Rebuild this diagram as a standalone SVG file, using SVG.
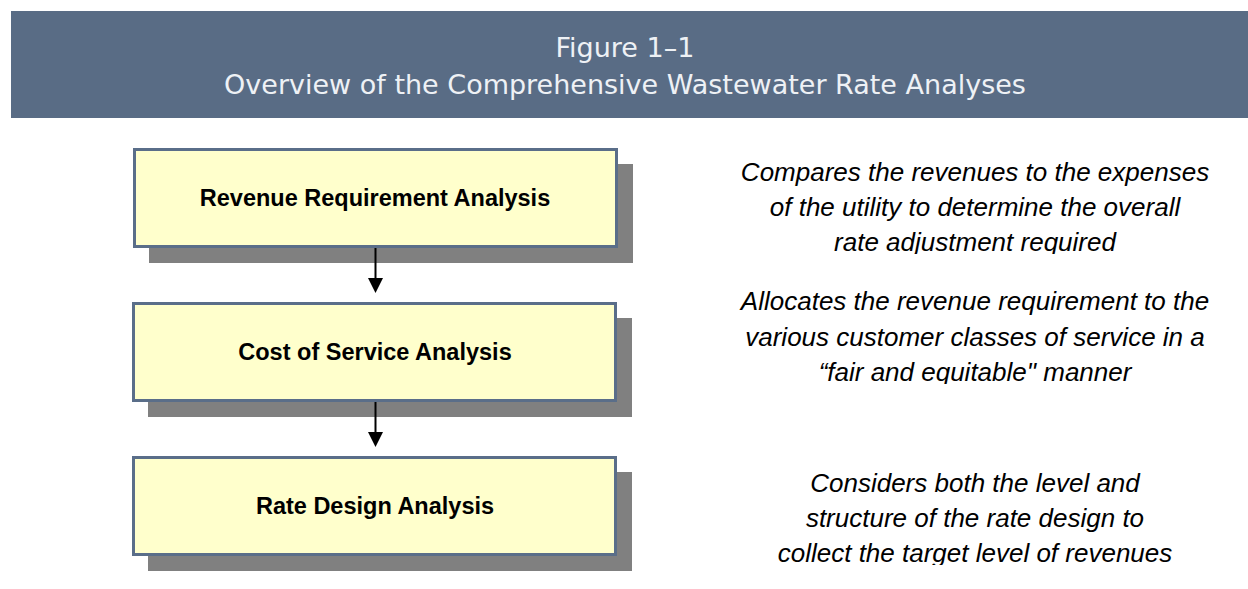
<svg xmlns="http://www.w3.org/2000/svg" width="1248" height="589" viewBox="0 0 1248 589">
<style>
.band{fill:#596c85}
.htxt{font-family:"DejaVu Sans",sans-serif;font-size:27px;fill:#eef1f5;text-anchor:middle}
.shadow{fill:#808080}
.box{fill:#ffffcc;stroke:#5a6e89;stroke-width:3}
.btxt{font-family:"Liberation Sans",Arial,sans-serif;font-weight:bold;font-size:23.5px;fill:#000;text-anchor:middle}
.desc{font-family:"Liberation Sans",Arial,sans-serif;font-style:italic;font-size:26px;fill:#000;text-anchor:middle}
.conn{stroke:#000;stroke-width:2;fill:none}
</style>
<defs>
<marker id="arr" markerWidth="16" markerHeight="16" refX="8" refY="15" viewBox="0 0 16 16" markerUnits="userSpaceOnUse" orient="auto-start-reverse">
<path d="M0,0 L16,0 L8,15 Z" fill="#000" transform="rotate(-90 8 8)"/>
</marker>
<clipPath id="c1"><rect x="680" y="140" width="568" height="114"/></clipPath>
<clipPath id="c2"><rect x="680" y="280" width="568" height="104"/></clipPath>
<clipPath id="c3"><rect x="680" y="460" width="568" height="105"/></clipPath>
</defs>
<g id="header">
<rect class="band" x="11" y="11" width="1237" height="107"/>
<text class="htxt" x="625" y="57">Figure 1–1</text>
<text class="htxt" x="625" y="94">Overview of the Comprehensive Wastewater Rate Analyses</text>
</g>
<g id="node-revenue">
<rect class="shadow" x="149" y="164" width="484" height="99"/>
<rect class="box" x="134.5" y="149.5" width="482" height="97"/>
<text class="btxt" x="375" y="206">Revenue Requirement Analysis</text>
</g>
<g id="node-cost">
<rect class="shadow" x="148" y="318" width="484" height="99"/>
<rect class="box" x="133.5" y="303.5" width="482" height="97"/>
<text class="btxt" x="375" y="360">Cost of Service Analysis</text>
</g>
<g id="node-rate">
<rect class="shadow" x="148" y="472" width="484" height="99"/>
<rect class="box" x="133.5" y="457.5" width="482" height="97"/>
<text class="btxt" x="375" y="514">Rate Design Analysis</text>
</g>
<g id="connectors">
<line class="conn" x1="375.5" y1="248" x2="375.5" y2="280"/>
<path d="M368,278 L383,278 L375.5,293 Z" fill="#000"/>
<line class="conn" x1="375.5" y1="402" x2="375.5" y2="434"/>
<path d="M368,432 L383,432 L375.5,447 Z" fill="#000"/>
</g>
<g id="desc-revenue" clip-path="url(#c1)">
<text class="desc" x="975" y="181">Compares the revenues to the expenses</text>
<text class="desc" x="975" y="216">of the utility to determine the overall</text>
<text class="desc" x="975" y="251">rate adjustment required</text>
</g>
<g id="desc-cost" clip-path="url(#c2)">
<text class="desc" x="975" y="310">Allocates the revenue requirement to the</text>
<text class="desc" x="975" y="346">various customer classes of service in a</text>
<text class="desc" x="975" y="381">“fair and equitable" manner</text>
</g>
<g id="desc-rate" clip-path="url(#c3)">
<text class="desc" x="975" y="492">Considers both the level and</text>
<text class="desc" x="975" y="527">structure of the rate design to</text>
<text class="desc" x="975" y="562">collect the target level of revenues</text>
</g>
</svg>
